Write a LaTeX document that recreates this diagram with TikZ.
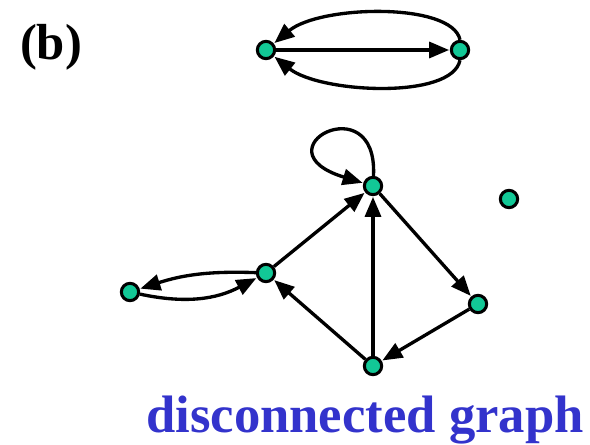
\documentclass[tikz,border=0pt]{standalone}
\usepackage{fontspec}
\setmainfont{Liberation Serif}
\usetikzlibrary{arrows.meta}
\definecolor{vteal}{RGB}{18,200,150}
\definecolor{tblue}{RGB}{51,51,204}
\begin{document}
\begin{tikzpicture}[x=0.75pt,y=0.75pt,
  vtx/.style={circle,draw=black,fill=vteal,line width=2.3pt,minimum size=13pt,inner sep=0pt},
  arr/.style={line width=2.5pt,-{Triangle[length=15pt,width=12pt]},shorten >=0.5pt}]
\useasboundingbox (0,0) rectangle (590,-445);
\node[font=\bfseries\fontsize{38}{40}\selectfont,anchor=base] (lbl) at (51,-60) {(b)};
\node[font=\bfseries\fontsize{39.5}{42}\selectfont,text=tblue,anchor=base] (cap) at (365,-433) {disconnected graph};
% top pair
\node[vtx] (A) at (266,-50) {};
\node[vtx] (B) at (460,-50) {};
\draw[arr] (A) -- (B);
\draw[arr] (B.north) .. controls (452,-2) and (320,-5) .. (A);
\draw[arr] (B.south) .. controls (452,-100) and (320,-93) .. (A);
% lower graph
\node[vtx] (C) at (373,-186) {};
\node[vtx] (D) at (509,-199) {};
\node[vtx] (E) at (266,-273) {};
\node[vtx] (F) at (130,-292) {};
\node[vtx] (G) at (478,-304) {};
\node[vtx] (H) at (373,-366) {};
\draw[arr] (C) .. controls (378,-84) and (255,-150) .. (C);
\draw[arr] (E) -- (C);
\draw[arr] (H) -- (C);
\draw[arr] (C) -- (G);
\draw[arr] (G) -- (H);
\draw[arr] (H) -- (E);
\draw[arr] (E) to[bend right=10] (F);
\draw[arr] (F) to[bend right=20] (E);
\end{tikzpicture}
\end{document}
